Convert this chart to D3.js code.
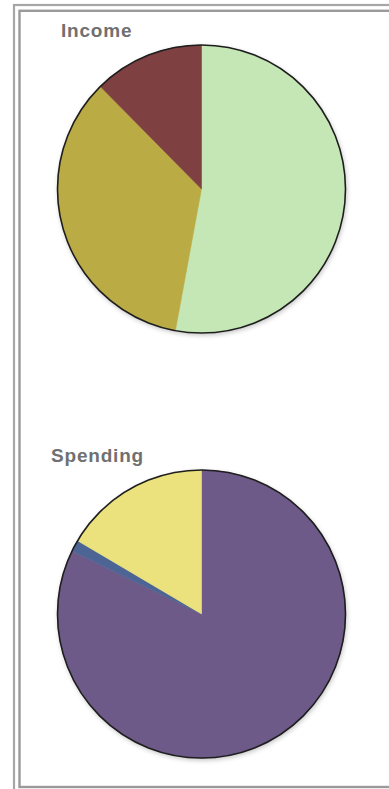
<!DOCTYPE html>
<html>
<head>
<meta charset="utf-8">
<script src="https://cdn.jsdelivr.net/npm/d3@7"></script>
<style>
  html, body { margin: 0; padding: 0; background: #fff; overflow: hidden; }
  svg { display: block; }
</style>
</head>
<body>
<svg id="chart" width="389" height="789"></svg>
<script>
// ---- Data ----
const incomeCategories = ["Category 1", "Category 2", "Category 3"];
const incomeValues = [52.9, 34.7, 12.4];
const incomeColors = ["#c4e7b5", "#bbab44", "#7e3f3f"];

const spendingCategories = ["Category 1", "Category 2", "Category 3"];
const spendingValues = [82.2, 1.3, 16.5];
const spendingColors = ["#6d5a88", "#4d6594", "#ebe17d"];

const chartTitles = ["Income", "Spending"];

// ---- Drawing ----
const svg = d3.select("#chart");

const defs = svg.append("defs");
const f = defs.append("filter").attr("id", "shadow")
  .attr("x", "-10%").attr("y", "-10%").attr("width", "120%").attr("height", "120%");
f.append("feGaussianBlur").attr("in", "SourceAlpha").attr("stdDeviation", 2.5).attr("result", "b");
f.append("feOffset").attr("in", "b").attr("dx", 1).attr("dy", 2).attr("result", "o");
f.append("feComponentTransfer").attr("in", "o").attr("result", "o2")
  .append("feFuncA").attr("type", "linear").attr("slope", 0.25);
const fm = f.append("feMerge");
fm.append("feMergeNode").attr("in", "o2");
fm.append("feMergeNode").attr("in", "SourceGraphic");

// frame (double border)
svg.append("rect").attr("x", 14).attr("y", 5).attr("width", 420).attr("height", 820)
  .attr("fill", "none").attr("stroke", "#a6a6a6").attr("stroke-width", 2.2);
svg.append("rect").attr("x", 19.5).attr("y", 10.8).attr("width", 420).attr("height", 776.2)
  .attr("fill", "none").attr("stroke", "#9a9a9a").attr("stroke-width", 2.4);

const charts = [
  { title: chartTitles[0], cats: incomeCategories, vals: incomeValues, cols: incomeColors,
    cx: 201.5, cy: 189, r: 144, tx: 61, ty: 37 },
  { title: chartTitles[1], cats: spendingCategories, vals: spendingValues, cols: spendingColors,
    cx: 201.5, cy: 614, r: 144, tx: 51, ty: 462 }
];

const pie = d3.pie().sort(null).value(d => d.v).startAngle(0).endAngle(2 * Math.PI);

charts.forEach(c => {
  const data = c.cats.map((k, i) => ({ k, v: c.vals[i] }));
  const color = d3.scaleOrdinal().domain(c.cats.map((k, i) => i)).range(c.cols);
  const arc = d3.arc().innerRadius(0).outerRadius(c.r);

  svg.append("text")
    .attr("x", c.tx).attr("y", c.ty)
    .attr("font-family", "'Liberation Sans', Arial, sans-serif")
    .attr("font-weight", "bold")
    .attr("font-size", 19)
    .attr("letter-spacing", 0.8)
    .attr("fill", "#707070")
    .text(c.title);

  const g = svg.append("g").attr("transform", `translate(${c.cx},${c.cy})`);
  const gp = g.append("g").attr("filter", "url(#shadow)");
  gp.selectAll("path").data(pie(data)).join("path")
    .attr("d", arc)
    .attr("fill", (d, i) => color(i))
    .attr("stroke", (d, i) => color(i))
    .attr("stroke-width", 0.5);
  g.append("circle").attr("r", c.r).attr("fill", "none")
    .attr("stroke", "#1e1e1e").attr("stroke-width", 1.6);
});
</script>
</body>
</html>
